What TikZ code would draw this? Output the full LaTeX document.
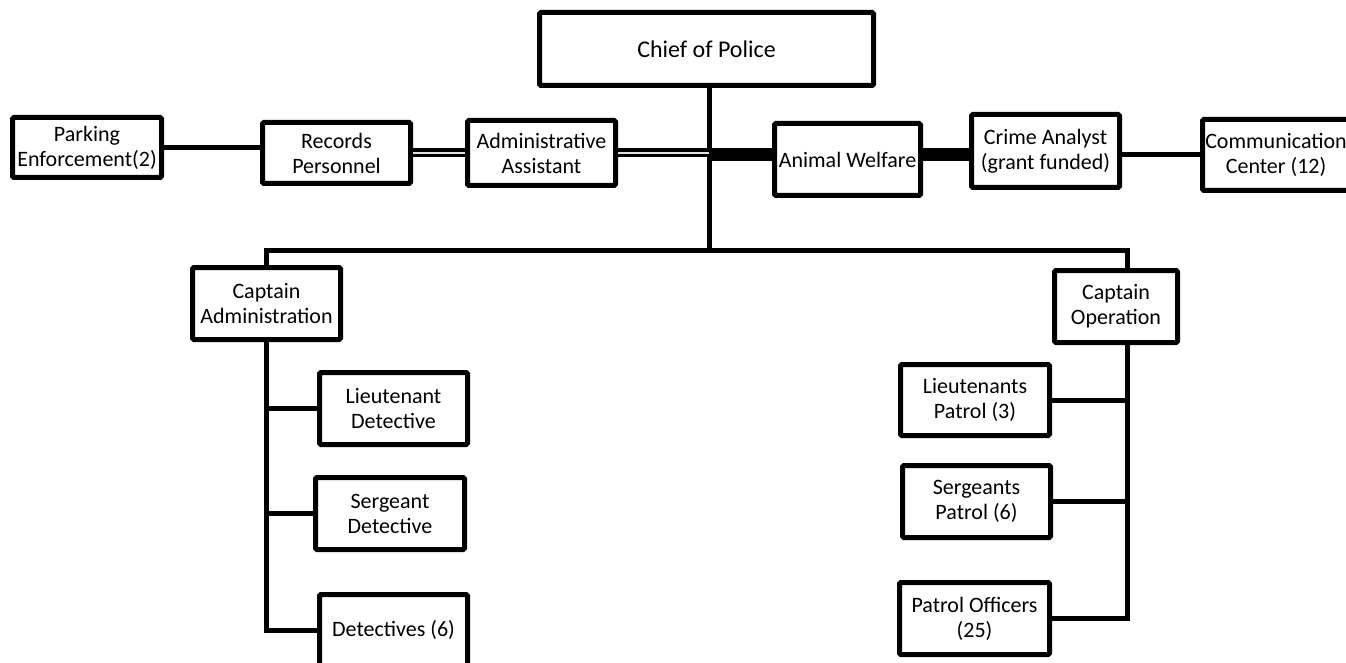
\documentclass[tikz,border=0pt]{standalone}
\usepackage{fontspec}
\setmainfont{Carlito}
\usepackage{tikz}

\tikzset{
  unit/.style={draw, line width=5pt, rounded corners=1.5pt, align=center,
    inner sep=0pt, fill=white, font=\fontsize{22}{25}\selectfont},
  link/.style={line width=5pt},
  dbl/.style={line width=9pt, postaction={draw, gray!25, line width=1.2pt}},
  bar/.style={line width=13pt}
}

\begin{document}
\begin{tikzpicture}[x=1pt, y=-1pt]

  % ── Frame ───────────────────────────────────────────────────────────
  \useasboundingbox (0,0) rectangle (1346,663);
  \clip (0,0) rectangle (1346,663);

  % ── Layout ──────────────────────────────────────────────────────────
  \def\xhub{709}    % chief's spine
  \def\ybus{250}    % bus to both captains
  \def\yrow{155}    % staff row
  \def\xops{1127}   % operations spine

  \coordinate (bus) at (\xhub,\ybus);
  \coordinate (hub) at (\xhub,\yrow);
  \coordinate (opsdrop) at (\xops,\ybus);

  % ── Top ─────────────────────────────────────────────────────────────
  \node[unit, minimum width=334, minimum height=73,
    font=\fontsize{24}{28}\selectfont] (chief) at (706.5,49) {Chief of Police};

  % ── Staff row ───────────────────────────────────────────────────────
  \node[unit, minimum width=149, minimum height=60] (parking) at (87,147.5)
    {Parking\\Enforcement(2)};
  \node[unit, minimum width=148, minimum height=61] (records) at (336.5,153)
    {Records\\Personnel};
  \node[unit, minimum width=148, minimum height=65] (admin) at (541.5,153)
    {Administrative\\Assistant};
  \node[unit, minimum width=146, minimum height=72] (animal) at (847.5,159.5)
    {Animal Welfare};
  \node[unit, minimum width=148, minimum height=73] (crime) at (1045.5,151)
    {Crime Analyst\\(grant funded)};
  \node[unit, minimum width=147, minimum height=71] (comm) at (1276,155)
    {Communication\\Center (12)};

  % ── Captains ────────────────────────────────────────────────────────
  \node[unit, minimum width=148, minimum height=72] (capadm) at (266.5,303.5)
    {Captain\\Administration};
  \node[unit, minimum width=123, minimum height=72] (capops) at (1116,306.5)
    {Captain\\Operation};

  % ── Administration side ─────────────────────────────────────────────
  \node[unit, minimum width=148, minimum height=72] (ltdet) at (393.5,408.5)
    {Lieutenant\\Detective};
  \node[unit, minimum width=149, minimum height=72] (sgtdet) at (390,513.5)
    {Sergeant\\Detective};
  \node[unit, minimum width=148, minimum height=71] (dets) at (393.5,630)
    {Detectives (6)};

  % ── Operation side ──────────────────────────────────────────────────
  \node[unit, minimum width=149, minimum height=71] (ltpat) at (975,400)
    {Lieutenants\\Patrol (3)};
  \node[unit, minimum width=148, minimum height=72] (sgtpat) at (976.5,501.5)
    {Sergeants\\Patrol (6)};
  \node[unit, minimum width=150, minimum height=72] (patoff) at (974.5,618.5)
    {Patrol Officers\\(25)};

  % ── Connectors ──────────────────────────────────────────────────────
  \draw[link] (chief.south -| bus) -- (bus);
  \draw[link] (capadm.north) |- (bus) -- (opsdrop) -- (opsdrop |- capops.north);

  \draw[link] (parking.east) -- (parking.east -| records.west);
  \draw[dbl] (records.east) -- (admin.west);
  \draw[dbl] (admin.east) -- (admin.east -| hub);
  \draw[bar] (hub) -- (hub -| animal.west);
  \draw[bar] (hub -| animal.east) -- (hub -| crime.west);
  \draw[link] (hub -| crime.east) -- (hub -| comm.west);

  \draw[link] (capadm.south) -- (capadm.south |- dets.west) -- (dets.west);
  \foreach \n in {ltdet, sgtdet}
    \draw[link] (capadm.south |- \n.west) -- (\n.west);

  \draw[link] (opsdrop |- capops.south) -- (opsdrop |- patoff.east) -- (patoff.east);
  \foreach \n in {ltpat, sgtpat}
    \draw[link] (opsdrop |- \n.east) -- (\n.east);

\end{tikzpicture}
\end{document}
